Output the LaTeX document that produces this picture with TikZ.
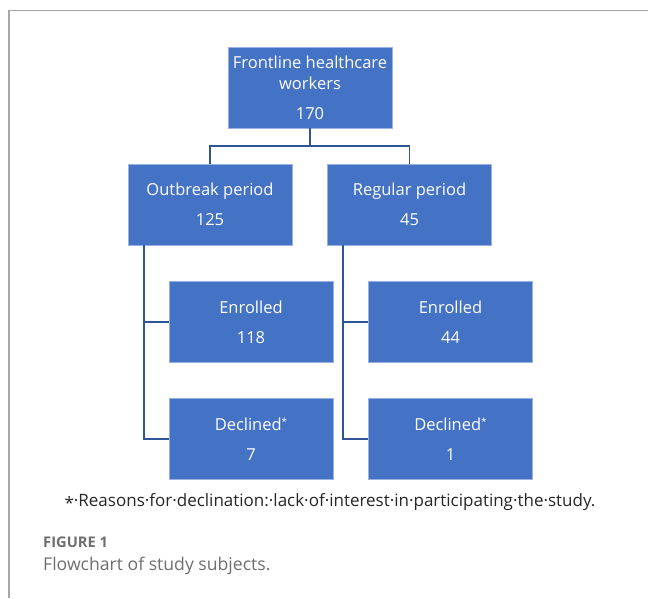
\documentclass[tikz,border=0pt]{standalone}
\usepackage{fontspec}
\setmainfont{Open Sans}
\usepackage{xcolor}
\usepackage{tikz}
\usetikzlibrary{positioning,calc}
\definecolor{boxblue}{HTML}{4472C4}
\definecolor{lineblue}{HTML}{2F5597}
\definecolor{framegray}{HTML}{A6A6A6}
\definecolor{capgray}{HTML}{6E6E6E}
\newcommand{\decmark}{\raisebox{0.5ex}{\fontsize{10}{10}\selectfont*}}

\begin{document}
\begin{tikzpicture}[x=1pt,y=-1pt,
  box/.style={rectangle,fill=boxblue,draw=boxblue!55!white,line width=0.5pt,text=white,align=center,
    minimum width=164pt,minimum height=81pt,inner sep=0pt,font=\fontsize{16.5}{30}\selectfont},
  link/.style={draw=lineblue,line width=1.8pt},
  frame/.style={draw=framegray,line width=1.4pt},
  note/.style={font=\fontsize{17}{19}\selectfont,text=black!85},
  captext/.style={anchor=west,inner sep=0pt,text=capgray}
]
  \useasboundingbox (0,0) rectangle (648,598);
  \coordinate (fr0) at (9,598);
  \coordinate (fr1) at (9,10.5);
  \coordinate (fr2) at (648,10.5);
  \draw[frame] (fr0) -- (fr1) -- (fr2);

  \node[box] (hcw)  at (310,87.5)  {Frontline healthcare\\[-9pt]workers\\170};
  \node[box] (outb) at (210,204.5) {Outbreak period\\125};
  \node[box] (reg)  at (409.5,204.5) {Regular period\\45};
  \node[box] (enr1) at (251,322)   {Enrolled\\118};
  \node[box] (dec1) at (251,439)   {Declined\decmark\\7};
  \node[box] (enr2) at (450.5,322) {Enrolled\\44};
  \node[box] (dec2) at (450.5,439) {Declined\decmark\\1};

  \draw[link] (hcw.south) -- ++(0,18) coordinate (bar);
  \draw[link] (outb.north) |- (bar) -| (reg.north);
  \draw[link] ([xshift=16pt]outb.south west) |- (enr1.west);
  \draw[link] ([xshift=16pt]outb.south west) |- (dec1.west);
  \draw[link] ([xshift=16pt]reg.south west) |- (enr2.west);
  \draw[link] ([xshift=16pt]reg.south west) |- (dec2.west);

  \node[note] (fn) at (330,502) {\raisebox{-0.35ex}{*}·Reasons·for·declination:·lack·of·interest·in·participating·the·study.};
  \node[captext,font=\fontsize{14.7}{16}\selectfont\bfseries] (fig) at (43,542) {FIGURE 1};
  \node[captext,font=\fontsize{17.6}{20}\selectfont] (ttl) at (43,566) {Flowchart of study subjects.};
\end{tikzpicture}
\end{document}
